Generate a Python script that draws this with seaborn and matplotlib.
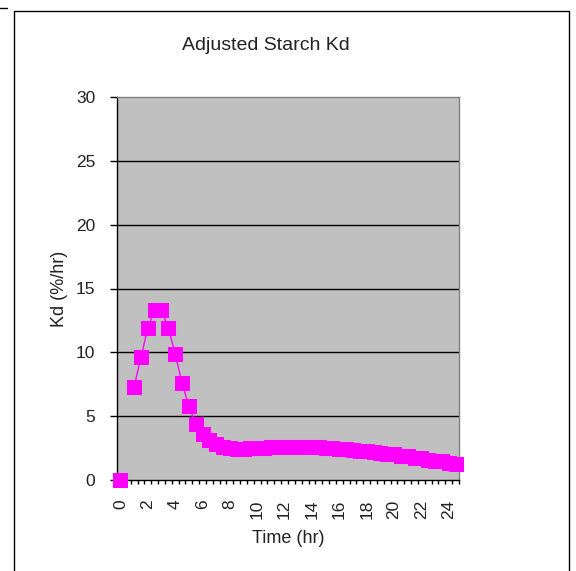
import numpy as np
import pandas as pd
import matplotlib
matplotlib.use("Agg")
import matplotlib.pyplot as plt
from matplotlib.patches import Rectangle
from matplotlib.lines import Line2D
import seaborn as sns

# data (t = 0.5 hr has no point)
hours = [0.0,
         1.0, 1.5, 2.0, 2.5, 3.0, 3.5, 4.0, 4.5, 5.0, 5.5,
         6.0, 6.5, 7.0, 7.5, 8.0, 8.5, 9.0, 9.5, 10.0, 10.5,
         11.0, 11.5, 12.0, 12.5, 13.0, 13.5, 14.0, 14.5, 15.0, 15.5,
         16.0, 16.5, 17.0, 17.5, 18.0, 18.5, 19.0, 19.5, 20.0, 20.5,
         21.0, 21.5, 22.0, 22.5, 23.0, 23.5, 24.0, 24.5]
kd = [0.0,
      7.3, 9.6, 11.9, 13.3, 13.3, 11.9, 9.9, 7.6, 5.8, 4.4,
      3.6, 3.1, 2.8, 2.6, 2.5, 2.45, 2.45, 2.5, 2.5, 2.5,
      2.55, 2.55, 2.55, 2.55, 2.55, 2.55, 2.55, 2.55, 2.5, 2.5,
      2.45, 2.4, 2.35, 2.3, 2.25, 2.2, 2.1, 2.05, 2.0, 1.9,
      1.85, 1.75, 1.7, 1.6, 1.5, 1.45, 1.35, 1.25]
segment = [0] + [1] * (len(hours) - 1)

x_labels = ["0", "2", "4", "6", "8", "10", "12", "14", "16", "18", "20", "22", "24"]
y_ticks = [0, 5, 10, 15, 20, 25, 30]

df = pd.DataFrame({"Time": hours, "Kd": kd, "seg": segment})

sns.set_style("white")
plt.rcParams["font.family"] = ["Liberation Sans", "DejaVu Sans"]

fig = plt.figure(figsize=(5.76, 5.71), dpi=100)
ax = fig.add_axes([117 / 576, 1 - 480 / 571, 342 / 576, 383 / 571])
ax.set_facecolor("#C0C0C0")

# black gridlines like Excel
for yv in y_ticks[1:-1]:
    ax.axhline(yv, color="black", lw=1, zorder=1)

sns.lineplot(data=df, x="Time", y="Kd", units="seg", estimator=None,
             color="#FF00FF", lw=1, marker="s", markersize=9.5,
             markeredgecolor="#FF00FF", ax=ax, zorder=3, clip_on=False)

ax.set_xlim(-0.25, 24.75)
ax.set_ylim(0, 30)
ax.set_xticks([int(s) for s in x_labels])
ax.set_xticklabels(x_labels, rotation=90, fontsize=12.5, color="#222222")
ax.set_xticks([-0.25 + 0.5 * k for k in range(51)], minor=True)
ax.tick_params(axis="x", which="major", length=0, pad=14)
ax.tick_params(axis="x", which="minor", length=3, width=1, color="black", direction="out", bottom=True)
ax.set_yticks(y_ticks)
ax.set_yticklabels([str(v) for v in y_ticks], fontsize=12.5, color="#222222")
ax.tick_params(axis="y", length=5, width=1, color="black", direction="out", left=True, pad=10.5)

for side in ["left", "bottom"]:
    ax.spines[side].set_color("black")
    ax.spines[side].set_linewidth(1)
for side in ["top", "right"]:
    ax.spines[side].set_color("#808080")
    ax.spines[side].set_linewidth(1)

ax.set_xlabel("Time (hr)", fontsize=13, labelpad=8, color="#222222")
ax.set_ylabel("Kd (%/hr)", fontsize=13, labelpad=6, color="#222222")
fig.text(266 / 576, 1 - 45 / 571, "Adjusted Starch Kd", fontsize=14,
         ha="center", va="center", color="#222222")

# chart frame
fig.add_artist(Rectangle((14 / 576, -0.01), 555 / 576, 1 - 11 / 571 + 0.01,
                         transform=fig.transFigure, fill=False,
                         edgecolor="black", lw=1))
fig.add_artist(Line2D([0, 7 / 576], [1 - 8 / 571, 1 - 8 / 571],
                      transform=fig.transFigure, color="black", lw=1))

fig.savefig("out.png", dpi=100)
